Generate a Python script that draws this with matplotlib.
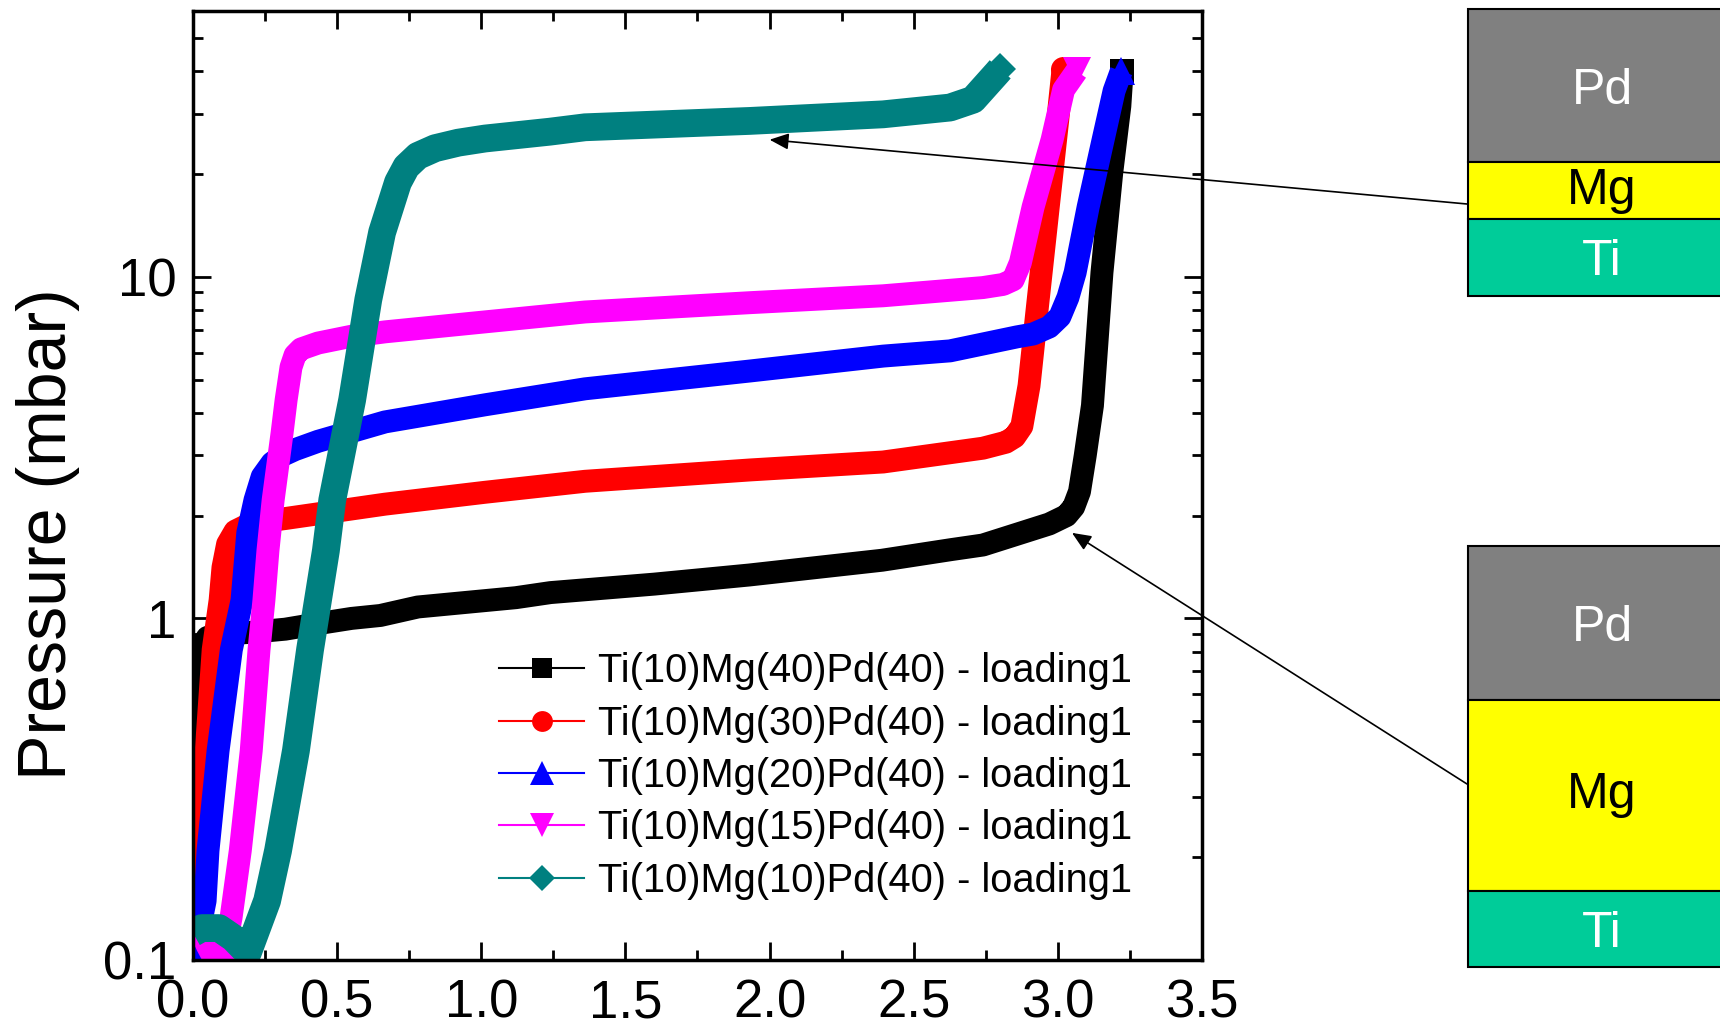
import numpy as np
import matplotlib
matplotlib.use('Agg')
import matplotlib.pyplot as plt
from matplotlib.lines import Line2D
from matplotlib.patches import Rectangle
from matplotlib.ticker import (LogLocator, NullFormatter, FixedLocator, FixedFormatter,
                               MultipleLocator, FormatStrFormatter)

plt.rcParams['font.family'] = 'Liberation Sans'

# H/M (x) vs pressure (mbar)
black_x = [0.0, 0.005, 0.02, 0.05, 0.09, 0.2, 0.32, 0.45, 0.55, 0.65, 0.78, 1.12, 1.24, 1.6, 1.93,
           2.39, 2.63, 2.74, 2.97, 3.03, 3.055, 3.075, 3.095, 3.12, 3.153, 3.187, 3.215, 3.223]
black_p = [0.17, 0.5, 0.8, 0.88, 0.9, 0.91, 0.93, 0.97, 1.0, 1.02, 1.08, 1.15, 1.19, 1.26, 1.34,
           1.48, 1.59, 1.64, 1.89, 2.0, 2.12, 2.35, 3.0, 4.2, 10.3, 20.2, 31.6, 40]

red_x = [0.0, 0.01, 0.022, 0.046, 0.07, 0.094, 0.104, 0.12, 0.146, 0.18, 0.2, 0.319, 0.666, 1.013,
         1.36, 1.932, 2.394, 2.74, 2.82, 2.85, 2.875, 2.9, 2.93, 2.97, 3.0, 3.018]
red_p = [0.12, 0.17, 0.21, 0.41, 0.81, 1.13, 1.41, 1.65, 1.8, 1.86, 1.9, 1.96, 2.16, 2.34,
         2.52, 2.72, 2.87, 3.15, 3.28, 3.4, 3.65, 4.8, 8.3, 17, 29, 40.5]

blue_x = [0.0, 0.02, 0.042, 0.052, 0.087, 0.133, 0.17, 0.19, 0.215, 0.24, 0.274, 0.31, 0.354, 0.434,
          0.666, 1.013, 1.36, 1.932, 2.394, 2.626, 2.858, 2.914, 2.97, 3.007, 3.035, 3.06, 3.105,
          3.157, 3.195, 3.22]
blue_p = [0.09, 0.12, 0.149, 0.209, 0.41, 0.81, 1.13, 1.78, 2.22, 2.6, 2.85, 3.0, 3.12, 3.3,
          3.76, 4.22, 4.7, 5.3, 5.86, 6.07, 6.67, 6.8, 7.13, 7.64, 8.7, 10.3, 16,
          25.2, 35, 40]

mag_x = [0.01, 0.05, 0.09, 0.11, 0.132, 0.164, 0.202, 0.229, 0.246, 0.26, 0.278, 0.309, 0.323, 0.34,
         0.354, 0.375, 0.434, 0.55, 0.666, 1.013, 1.36, 1.932, 2.394, 2.74, 2.81, 2.845, 2.87,
         2.914, 2.98, 3.02, 3.065]
mag_p = [0.13, 0.11, 0.095, 0.106, 0.133, 0.209, 0.41, 0.81, 1.13, 1.58, 2.22, 3.49, 4.36, 5.44,
         5.9, 6.15, 6.4, 6.7, 6.9, 7.38, 7.89, 8.4, 8.8, 9.3, 9.5, 9.8, 11,
         16, 25.2, 35.3, 40]

teal_x = [0.0, 0.03, 0.09, 0.14, 0.19, 0.257, 0.295, 0.357, 0.406, 0.461, 0.483, 0.552, 0.608, 0.656,
          0.711, 0.74, 0.78, 0.84, 0.92, 1.013, 1.238, 1.36, 1.932, 2.394, 2.626, 2.706, 2.79, 2.80]
teal_p = [0.12, 0.124, 0.124, 0.116, 0.105, 0.149, 0.209, 0.41, 0.81, 1.58, 2.22, 4.36, 8.57, 13.5,
          18.9, 21.0, 22.6, 23.8, 24.7, 25.4, 26.6, 27.4, 28.6, 29.9, 31.3, 33, 39.6, 40.5]

labels = ['Ti(10)Mg(40)Pd(40) - loading1', 'Ti(10)Mg(30)Pd(40) - loading1',
          'Ti(10)Mg(20)Pd(40) - loading1', 'Ti(10)Mg(15)Pd(40) - loading1',
          'Ti(10)Mg(10)Pd(40) - loading1']
xs = [black_x, red_x, blue_x, mag_x, teal_x]
ps = [black_p, red_p, blue_p, mag_p, teal_p]
colors = ['#000000', '#ff0000', '#0000ff', '#ff00ff', '#008080']
markers = ['s', 'o', '^', 'v', 'D']
leg_ms = [14, 15, 17, 17, 13]
band_lw = [16.5, 16.5, 16.5, 16.5, 20]

layer_names = ['Pd', 'Mg', 'Ti']
layer_colors = ['#808080', '#ffff00', '#00cc99']
layer_text = ['white', 'black', 'white']

W, H = 1720, 1027
fig = plt.figure(figsize=(17.2, 10.27), dpi=100)
ax = fig.add_axes([193 / W, 1 - 960 / H, 1009 / W, 949 / H])

for x, p, c, m, ms, lw in zip(xs, ps, colors, markers, leg_ms, band_lw):
    ax.plot(x, p, color=c, lw=lw, solid_joinstyle='round', solid_capstyle='butt',
            marker=m, markevery=[-1], markersize=ms + 3, markeredgewidth=0)

ax.set_yscale('log')
ax.set_xlim(0, 3.5)
ax.set_ylim(0.1, 60)
ax.xaxis.set_major_locator(MultipleLocator(0.5))
ax.xaxis.set_minor_locator(MultipleLocator(0.25))
ax.xaxis.set_major_formatter(FormatStrFormatter('%.1f'))
ax.yaxis.set_major_locator(FixedLocator([0.1, 1, 10]))
ax.yaxis.set_major_formatter(FixedFormatter(['0.1', '1', '10']))
ax.yaxis.set_minor_locator(LogLocator(base=10, subs=np.arange(2, 10)))
ax.yaxis.set_minor_formatter(NullFormatter())

ax.tick_params(which='both', direction='in', top=True, right=True, width=2)
ax.tick_params(which='major', length=13, labelsize=38)
ax.tick_params(which='minor', length=7)
ax.tick_params(axis='x', which='major', pad=13)
ax.tick_params(axis='y', which='major', pad=12)
for s in ax.spines.values():
    s.set_linewidth(2.5)

ax.set_ylabel('Pressure (mbar)', fontsize=49)
ax.yaxis.set_label_coords(-0.112, 0.449)

handles = [Line2D([0], [0], color=c, lw=1.5, marker=m, markersize=ms, markeredgewidth=0)
           for c, m, ms in zip(colors, markers, leg_ms)]
ax.legend(handles, labels, loc='center left', bbox_to_anchor=(0.303, 0.194), frameon=False,
          fontsize=28.7, handlelength=2.15, handletextpad=0.33, labelspacing=0.36,
          borderpad=0, borderaxespad=0)

# layer stacks on the right
stacks = [[9, 162, 219, 296], [546, 700, 891, 967]]
box_left, box_w = 1468, 272
fs_box = 36
for edges in stacks:
    for i, name in enumerate(layer_names):
        y0 = 1 - edges[i + 1] / H
        h = (edges[i + 1] - edges[i]) / H
        fig.add_artist(Rectangle((box_left / W, y0), box_w / W, h, transform=fig.transFigure,
                                 facecolor=layer_colors[i], edgecolor='black', lw=1.5))
        mid = (edges[i] + edges[i + 1]) / 2
        tx = (box_left + box_w / 2 - 2) / W
        if 'g' in name:
            fig.text(tx, 1 - mid / H, name, color=layer_text[i], fontsize=fs_box,
                     ha='center', va='center')
        else:
            fig.text(tx, 1 - (mid + 0.5 * fs_box) / H, name, color=layer_text[i],
                     fontsize=fs_box, ha='center', va='baseline')

arrow = dict(arrowstyle='-|>,head_length=0.77,head_width=0.33', color='black', lw=1.2,
             mutation_scale=15, shrinkA=0, shrinkB=0)
ax.annotate('', xy=(2.0, 25.2), xycoords='data', xytext=(1467 / W, 1 - 204 / H),
            textcoords='figure fraction', arrowprops=arrow, annotation_clip=False, zorder=10)
ax.annotate('', xy=(3.049, 1.78), xycoords='data', xytext=(1467 / W, 1 - 784 / H),
            textcoords='figure fraction', arrowprops=arrow, annotation_clip=False, zorder=10)

fig.savefig('out.png', dpi=100)
